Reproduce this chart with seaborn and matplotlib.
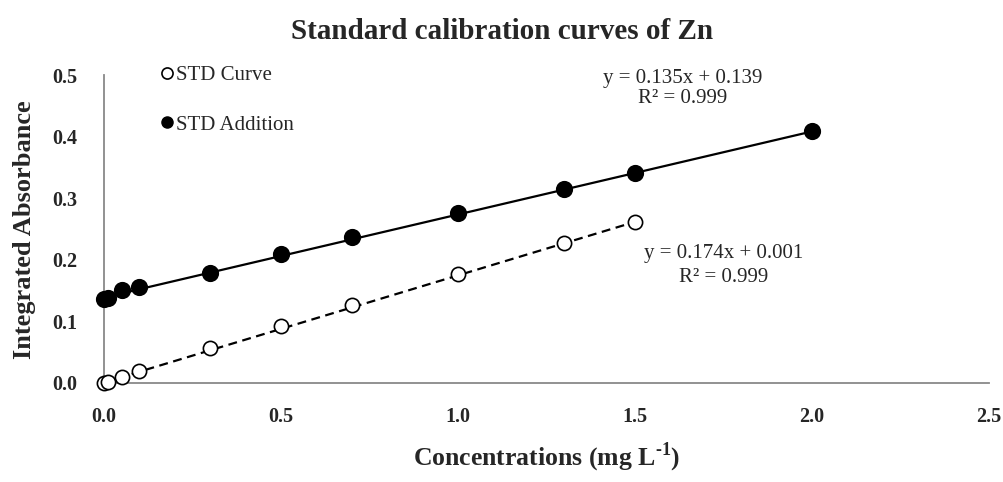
import numpy as np
import pandas as pd
import matplotlib
matplotlib.use("Agg")
import matplotlib.pyplot as plt
from matplotlib.lines import Line2D
import seaborn as sns

# Standard calibration (open circles)
std_conc = [0.0, 0.01, 0.05, 0.1, 0.3, 0.5, 0.7, 1.0, 1.3, 1.5]
std_abs = [0.000, 0.002, 0.010, 0.020, 0.057, 0.092, 0.127, 0.178, 0.228, 0.261]

# Standard addition (filled circles)
add_conc = [0.0, 0.01, 0.05, 0.1, 0.3, 0.5, 0.7, 1.0, 1.3, 1.5, 2.0]
add_abs = [0.136, 0.138, 0.152, 0.156, 0.179, 0.210, 0.237, 0.276, 0.316, 0.341, 0.409]

# Linear fits (slope, intercept, R²)
std_fit = (0.174, 0.001, 0.999)
add_fit = (0.135, 0.139, 0.999)

x_ticks = [0.0, 0.5, 1.0, 1.5, 2.0, 2.5]
y_ticks = [0.0, 0.1, 0.2, 0.3, 0.4, 0.5]

sns.set_style("white")
plt.rcParams["font.family"] = ["Liberation Serif", "DejaVu Serif"]
plt.rcParams["mathtext.fontset"] = "custom"
plt.rcParams["mathtext.rm"] = "Liberation Serif:bold"
plt.rcParams["mathtext.bf"] = "Liberation Serif:bold"

fig = plt.figure(figsize=(10.04, 4.82), dpi=100)
ax = fig.add_axes([0.1036, 0.2054, 0.8815, 0.638])

std_df = pd.DataFrame({"x": std_conc, "y": std_abs})
add_df = pd.DataFrame({"x": add_conc, "y": add_abs})

# Trend lines from the fitted equations
def fit_line(fit, xs):
    xs = np.array([min(xs), max(xs)])
    return pd.DataFrame({"x": xs, "y": fit[0] * xs + fit[1]})

sns.lineplot(data=fit_line(add_fit, add_conc), x="x", y="y", ax=ax,
             color="black", lw=1.6, zorder=2)
sns.lineplot(data=fit_line(std_fit, std_conc), x="x", y="y", ax=ax,
             color="black", lw=1.6, linestyle=(0, (4, 2.5)), zorder=2)

sns.scatterplot(data=add_df, x="x", y="y", ax=ax, s=125, color="black",
                edgecolor="black", linewidth=1.2, zorder=4, clip_on=False)
sns.scatterplot(data=std_df, x="x", y="y", ax=ax, s=105, facecolor="white",
                edgecolor="black", linewidth=1.2, zorder=4, clip_on=False)

ax.set_xlim(0, 2.5)
ax.set_ylim(0, 0.5)
ax.set_xticks(x_ticks)
ax.set_yticks(y_ticks)
ax.set_xticklabels([f"{v:.1f}" for v in x_ticks])
ax.set_yticklabels([f"{v:.1f}" for v in y_ticks])

for s in ["top", "right"]:
    ax.spines[s].set_visible(False)
for s in ["left", "bottom"]:
    ax.spines[s].set_color("#898989")
    ax.spines[s].set_linewidth(1.3)

ax.tick_params(axis="both", direction="out", length=5, width=1.0,
               color="#898989", labelsize=14.5)
ax.tick_params(axis="x", pad=12)
ax.tick_params(axis="y", pad=14)
for lab in ax.get_xticklabels() + ax.get_yticklabels():
    lab.set_fontweight("bold")

ax.set_xlabel(r"Concentrations (mg L$^{\text{-}1}$)", fontsize=18.5,
              fontweight="bold", labelpad=10)
ax.set_ylabel("Integrated Absorbance", fontsize=19, fontweight="bold",
              labelpad=12)
fig.text(0.5, 0.935, "Standard calibration curves of Zn", ha="center",
         va="center", fontsize=21, fontweight="bold")

# Fit equations
ax.text(1.635, 0.495, f"y = {add_fit[0]:.3f}x + {add_fit[1]:.3f}",
        ha="center", va="center", fontsize=15)
ax.text(1.635, 0.462, f"R² = {add_fit[2]:.3f}", ha="center", va="center",
        fontsize=15)
ax.text(1.75, 0.211, f"y = {std_fit[0]:.3f}x + {std_fit[1]:.3f}",
        ha="center", va="center", fontsize=15)
ax.text(1.75, 0.172, f"R² = {std_fit[2]:.3f}", ha="center", va="center",
        fontsize=15)

handles = [
    Line2D([], [], marker="o", linestyle="none", markersize=8,
           markerfacecolor="white", markeredgecolor="black", markeredgewidth=1.2),
    Line2D([], [], marker="o", linestyle="none", markersize=8,
           markerfacecolor="black", markeredgecolor="black"),
]
ax.legend(handles, ["STD Curve", "STD Addition"], loc="upper left",
          bbox_to_anchor=(0.055, 1.06), frameon=False, fontsize=15,
          handlelength=0.6, handletextpad=0.1, labelspacing=1.45,
          borderaxespad=0)

fig.savefig("out.png", dpi=100, facecolor="white")
